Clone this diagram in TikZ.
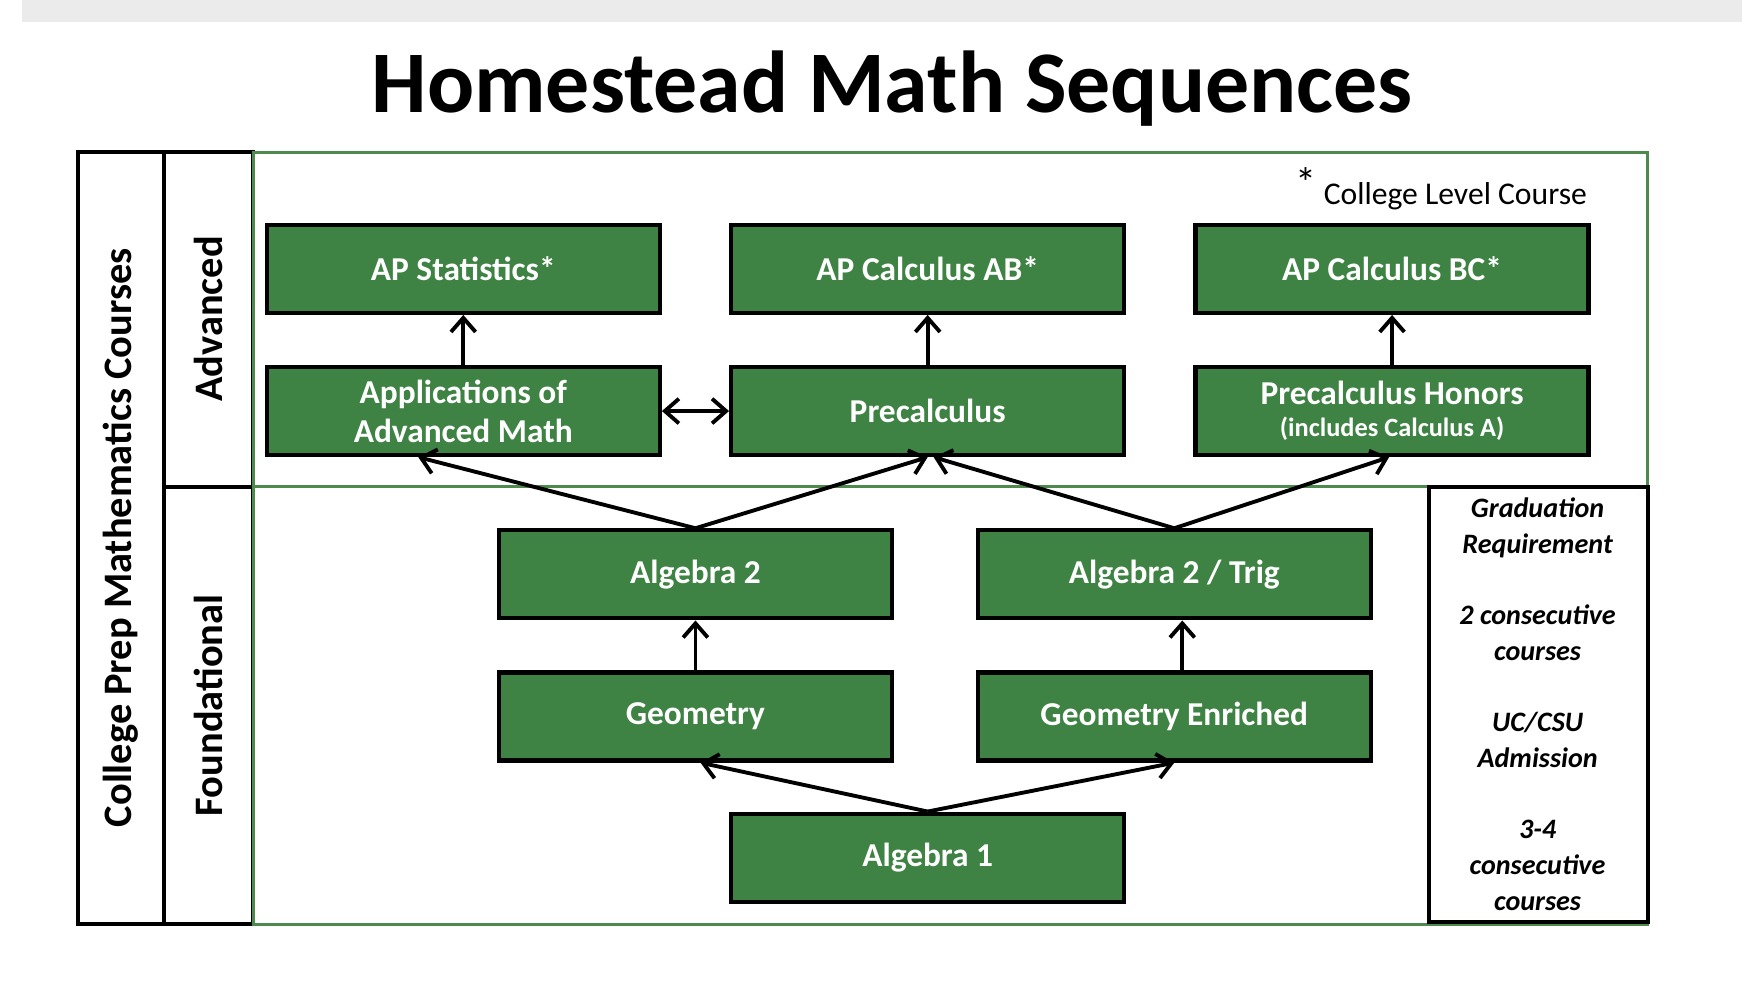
\documentclass[tikz,border=0pt]{standalone}
\usepackage{fontspec}
\setmainfont{Carlito}
\usetikzlibrary{arrows.meta, positioning}
\definecolor{coursegreen}{HTML}{3E8344}
\definecolor{regiongreen}{HTML}{4E8A4E}
\tikzset{
  course/.style={draw=black, line width=1.2pt, fill=coursegreen, text=white,
    font=\bfseries\fontsize{9.5}{11}\selectfont, minimum width=3.93cm, minimum height=0.88cm,
    inner sep=0pt, align=center},
  flow/.style={-{Straight Barb[length=4pt, width=7pt]}, line width=1.1pt},
  band/.style={draw=black, line width=1.1pt}
}
\begin{document}
\begin{tikzpicture}[x=0.01111cm, y=-0.01111cm]
  \useasboundingbox (0,0) rectangle (1568,885);
  \fill[black!8] (20,0) rectangle (1568,20);

  % Title
  \node[font=\bfseries\fontsize{25}{28}\selectfont] (title) at (803,80) {Homestead Math Sequences};

  % Side bands
  \draw[band] (70,137) rectangle (148,832);
  \node[rotate=90, font=\bfseries\fontsize{11.5}{13}\selectfont] (prep) at (109,484) {College Prep Mathematics Courses};
  \draw[band] (148,137) rectangle (228,438);
  \node[rotate=90, font=\bfseries\fontsize{11.5}{13}\selectfont] (adv) at (188,287) {Advanced};
  \draw[band] (148,438) rectangle (228,832);
  \node[rotate=90, font=\bfseries\fontsize{11.5}{13}\selectfont] (found) at (188,635) {Foundational};

  % Course region
  \draw[regiongreen, line width=0.9pt] (228,137) rectangle (1483,832);
  \draw[regiongreen, line width=0.9pt] (228,438) -- (1483,438);
  \node[anchor=west, font=\fontsize{9}{11}\selectfont] (note) at (1155,170) {\raisebox{0.5ex}{\large *} College Level Course};

  % Graduation box
  \draw[band, fill=white] (1286,438) rectangle (1483,830);
  \node[align=center, font=\bfseries\itshape\fontsize{8}{10.2}\selectfont] (grad) at (1384,634)
    {Graduation\\Requirement\\[10pt]2 consecutive\\courses\\[10pt]UC/CSU\\Admission\\[10pt]3-4\\consecutive\\courses};

  % Courses
  \node[course] (apstat) at (417,242) {AP Statistics*};
  \node[course] (apab) at (835,242) {AP Calculus AB*};
  \node[course] (apbc) at (1253,242) {AP Calculus BC*};
  \node[course] (appl) at (417,370) {Applications of\\Advanced Math};
  \node[course] (precalc) at (835,370) {Precalculus};
  \node[course, align=center] (prehon) at (1253,370) {Precalculus Honors\\[-2pt]{\fontsize{7.5}{9}\selectfont (includes Calculus A)}};
  \node[course] (alg2) at (626,517) {Algebra 2};
  \node[course] (alg2t) at (1057,517) {Algebra 2 / Trig};
  \node[course] (geom) at (626,645) {Geometry};
  \node[course] (geome) at (1057,645) {Geometry Enriched};
  \node[course] (alg1) at (835,772) {Algebra 1};

  % Connectors
  \draw[flow] (appl.north) -- (apstat.south);
  \draw[flow] (precalc.north) -- (apab.south);
  \draw[flow] (prehon.north) -- (apbc.south);
  \draw[flow, {Straight Barb[length=4pt, width=7pt]}-{Straight Barb[length=4pt, width=7pt]}] (appl.east) -- (precalc.west);
  \draw[flow] (alg2.north) -- ([xshift=-0.45cm]appl.south);
  \draw[flow] (alg2.north) -- (precalc.south);
  \draw[flow] (alg2t.north) -- ([xshift=0.06cm]precalc.south);
  \draw[flow] (alg2t.north) -- ([xshift=-0.03cm]prehon.south);
  \draw[flow] (geom.north) -- (alg2.south);
  \draw[flow] ([xshift=0.08cm]geome.north) -- ([xshift=0.08cm]alg2t.south);
  \draw[flow] (alg1.north) -- ([xshift=0.05cm]geom.south);
  \draw[flow] (alg1.north) -- (geome.south);
\end{tikzpicture}
\end{document}
